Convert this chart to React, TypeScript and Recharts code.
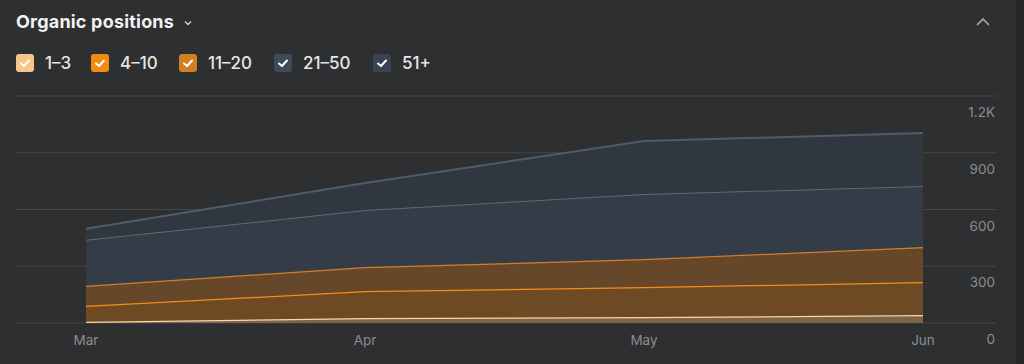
import { AreaChart, Area, XAxis, YAxis, CartesianGrid } from 'recharts';

const months = ['Mar', 'Apr', 'May', 'Jun'];
const pos1to3 = [6, 26, 32, 42];
const pos4to10 = [85, 143, 158, 175];
const pos11to20 = [106, 127, 148, 185];
const pos21to50 = [243, 301, 344, 322];
const pos51plus = [58, 143, 280, 280];
const yTicks = [0, 300, 600, 900, 1200];

const series = [
  { key: 'p1', label: '1–3', values: pos1to3, stroke: '#fbd6a4', fill: '#7b6447', box: '#f7c58a', width: 2.5 },
  { key: 'p4', label: '4–10', values: pos4to10, stroke: '#f58d16', fill: '#6d4a24', box: '#f28b12', width: 2.5 },
  { key: 'p11', label: '11–20', values: pos11to20, stroke: '#d0802c', fill: '#66472a', box: '#d2801f', width: 2.5 },
  { key: 'p21', label: '21–50', values: pos21to50, stroke: '#586b80', fill: '#343d47', box: '#3d4a5a', width: 2 },
  { key: 'p51', label: '51+', values: pos51plus, stroke: '#4d5d6e', fill: '#31373e', box: '#394452', width: 2 },
];

// legend item left edges, px
const legendLeft = [16, 91, 179, 274, 373];

const chartData = months.map((m, i) => {
  const row: Record<string, string | number> = { month: m };
  series.forEach((s) => {
    row[s.key] = s.values[i];
  });
  return row;
});

const fmt = (v: number) => (v >= 1000 ? `${v / 1000}K` : `${v}`);

const renderYTick = (props: any) => {
  const { x, y, payload } = props;
  return (
    <text x={x - 1} y={y + 21} textAnchor="end" fill="#8b8c8f" fontSize={13.5}>
      {fmt(payload.value)}
    </text>
  );
};

function Check({ color }: { color: string }) {
  return (
    <svg width={18} height={18} style={{ display: 'block' }}>
      <rect x={0} y={0} width={18} height={18} rx={3} fill={color} />
      <path d="M5 9.5 L8 12 L13 6.5" stroke="#fff" strokeWidth={2} fill="none" strokeLinecap="round" strokeLinejoin="round" />
    </svg>
  );
}

export default function App() {
  return (
    <div
      style={{
        position: 'fixed',
        left: 0,
        top: 0,
        width: 1024,
        height: 364,
        background: '#2e2f31',
        fontFamily: 'Inter, "Noto Sans", sans-serif',
        overflow: 'hidden',
      }}
    >
      <div style={{ position: 'absolute', right: 0, top: 0, width: 8, height: 364, background: '#242527' }} />
      <div style={{ position: 'absolute', left: 16, top: 11, color: '#f2f2f2', fontSize: 18, fontWeight: 700, display: 'flex', alignItems: 'center', letterSpacing: 0.2 }}>
        Organic positions
        <svg width={12} height={12} style={{ marginLeft: 8, marginTop: 2 }}>
          <path d="M3 4.5 L6 7.5 L9 4.5" stroke="#d0d0d0" strokeWidth={1.5} fill="none" />
        </svg>
      </div>
      <svg width={20} height={14} style={{ position: 'absolute', left: 973, top: 15 }}>
        <path d="M4 10 L10 4 L16 10" stroke="#9a9a9c" strokeWidth={1.8} fill="none" />
      </svg>
      {series.map((s, i) => (
        <div key={s.key} style={{ position: 'absolute', left: legendLeft[i], top: 53, display: 'flex', alignItems: 'center' }}>
          <Check color={s.box} />
          <span style={{ marginLeft: 11, color: '#e6e6e6', fontSize: 17, fontWeight: 500 }}>{s.label}</span>
        </div>
      ))}
      <AreaChart
        width={1024}
        height={364}
        data={chartData}
        margin={{ top: 96, right: 0, left: 16, bottom: 11 }}
        style={{ position: 'absolute', left: 0, top: 0 }}
      >
        <CartesianGrid vertical={false} stroke="#44464a" strokeWidth={1} />
        <XAxis
          dataKey="month"
          height={30}
          axisLine={false}
          tickLine={false}
          tickSize={0}
          tickMargin={12}
          padding={{ left: 70, right: 73 }}
          tick={{ fill: '#8b8c8f', fontSize: 13.5 }}
        />
        <YAxis
          orientation="right"
          width={28}
          domain={[0, 1200]}
          ticks={yTicks}
          axisLine={false}
          tickLine={false}
          tickSize={0}
          tickMargin={0}
          tick={renderYTick}
        />
        {series.map((s) => (
          <Area
            key={s.key}
            dataKey={s.key}
            stackId="1"
            type="linear"
            stroke={s.stroke}
            strokeWidth={s.width}
            fill={s.fill}
            fillOpacity={1}
            isAnimationActive={false}
            dot={false}
            activeDot={false}
          />
        ))}
      </AreaChart>
    </div>
  );
}
